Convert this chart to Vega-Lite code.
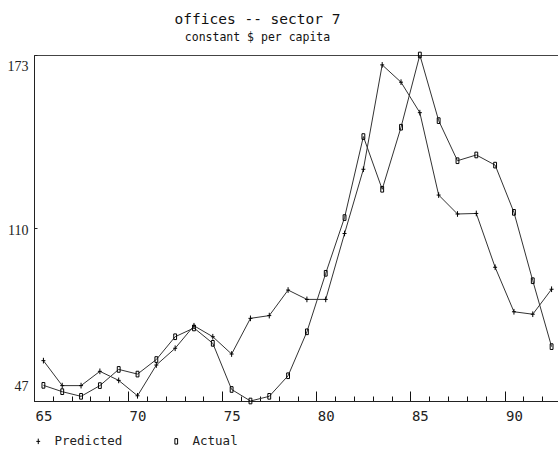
{
  "$schema": "https://vega.github.io/schema/vega-lite/v6.json",
  "width": 527,
  "height": 346,
  "autosize": "none",
  "padding": {"left": 34, "top": 55, "right": 0, "bottom": 49},
  "background": "white",
  "title": {
    "text": "offices -- sector 7",
    "subtitle": "constant $ per capita",
    "anchor": "middle",
    "frame": "group",
    "dx": -40,
    "offset": 6,
    "font": "DejaVu Sans Mono",
    "fontSize": 14.5,
    "fontWeight": "normal",
    "color": "#111",
    "subtitleFont": "DejaVu Sans Mono",
    "subtitleFontSize": 11.5,
    "subtitleColor": "#111",
    "subtitlePadding": 4
  },
  "config": {
    "view": {"stroke": "#444", "strokeWidth": 1}
  },
  "data": {
    "values": [
      {"year": 65, "series": "Predicted", "value": 61.7},
      {"year": 66, "series": "Predicted", "value": 52.6},
      {"year": 67, "series": "Predicted", "value": 52.6},
      {"year": 68, "series": "Predicted", "value": 57.8},
      {"year": 69, "series": "Predicted", "value": 54.5},
      {"year": 70, "series": "Predicted", "value": 48.9},
      {"year": 71, "series": "Predicted", "value": 60.1},
      {"year": 72, "series": "Predicted", "value": 66.2},
      {"year": 73, "series": "Predicted", "value": 74.4},
      {"year": 74, "series": "Predicted", "value": 70.4},
      {"year": 75, "series": "Predicted", "value": 64.1},
      {"year": 76, "series": "Predicted", "value": 77.1},
      {"year": 77, "series": "Predicted", "value": 78.1},
      {"year": 78, "series": "Predicted", "value": 87.4},
      {"year": 79, "series": "Predicted", "value": 84.0},
      {"year": 80, "series": "Predicted", "value": 84.0},
      {"year": 81, "series": "Predicted", "value": 108.0},
      {"year": 82, "series": "Predicted", "value": 131.4},
      {"year": 83, "series": "Predicted", "value": 169.4},
      {"year": 84, "series": "Predicted", "value": 163.1},
      {"year": 85, "series": "Predicted", "value": 152.0},
      {"year": 86, "series": "Predicted", "value": 122.0},
      {"year": 87, "series": "Predicted", "value": 115.1},
      {"year": 88, "series": "Predicted", "value": 115.3},
      {"year": 89, "series": "Predicted", "value": 95.7},
      {"year": 90, "series": "Predicted", "value": 79.5},
      {"year": 91, "series": "Predicted", "value": 78.6},
      {"year": 92, "series": "Predicted", "value": 87.7},
      {"year": 65, "series": "Actual", "value": 52.7},
      {"year": 66, "series": "Actual", "value": 50.4},
      {"year": 67, "series": "Actual", "value": 48.7},
      {"year": 68, "series": "Actual", "value": 52.6},
      {"year": 69, "series": "Actual", "value": 58.5},
      {"year": 70, "series": "Actual", "value": 56.8},
      {"year": 71, "series": "Actual", "value": 62.1},
      {"year": 72, "series": "Actual", "value": 70.4},
      {"year": 73, "series": "Actual", "value": 73.6},
      {"year": 74, "series": "Actual", "value": 68.0},
      {"year": 75, "series": "Actual", "value": 51.2},
      {"year": 76, "series": "Actual", "value": 47.0},
      {"year": 77, "series": "Actual", "value": 48.7},
      {"year": 78, "series": "Actual", "value": 56.2},
      {"year": 79, "series": "Actual", "value": 72.2},
      {"year": 80, "series": "Actual", "value": 93.5},
      {"year": 81, "series": "Actual", "value": 113.8},
      {"year": 82, "series": "Actual", "value": 143.3},
      {"year": 83, "series": "Actual", "value": 124.1},
      {"year": 84, "series": "Actual", "value": 146.7},
      {"year": 85, "series": "Actual", "value": 173.0},
      {"year": 86, "series": "Actual", "value": 149.1},
      {"year": 87, "series": "Actual", "value": 134.5},
      {"year": 88, "series": "Actual", "value": 136.6},
      {"year": 89, "series": "Actual", "value": 132.9},
      {"year": 90, "series": "Actual", "value": 115.7},
      {"year": 91, "series": "Actual", "value": 90.8},
      {"year": 92, "series": "Actual", "value": 66.8}
    ]
  },
  "encoding": {
    "x": {
      "field": "year",
      "type": "quantitative",
      "scale": {"domain": [64.5, 92.5], "nice": false, "zero": false},
      "axis": {
        "title": null,
        "grid": false,
        "values": [65, 66, 67, 68, 69, 70, 71, 72, 73, 74, 75, 76, 77, 78, 79, 80, 81, 82, 83, 84, 85, 86, 87, 88, 89, 90, 91, 92],
        "domainColor": "#222",
        "tickColor": "#111",
        "tickWidth": 1,
        "tickOffset": -9.4,
        "labelOffset": 9.4,
        "tickSize": {"condition": {"test": "datum.value % 5 === 0", "value": -10}, "value": -5},
        "labelExpr": "datum.value % 5 === 0 ? datum.label : ''",
        "labelFont": "DejaVu Sans Mono",
        "labelFontSize": 14,
        "labelColor": "#222",
        "labelPadding": 18,
        "labelFlush": false,
        "labelOverlap": false
      }
    },
    "y": {
      "field": "value",
      "type": "quantitative",
      "scale": {"domain": [47, 173], "nice": false, "zero": false},
      "axis": {
        "title": null,
        "grid": false,
        "values": [47, 110, 173],
        "domainColor": "#222",
        "tickColor": "#222",
        "tickSize": -3,
        "labelOffset": {"condition": [{"test": "datum.value === 173", "value": 11}, {"test": "datum.value === 47", "value": -15}], "value": 2},
        "labelFont": "Liberation Serif",
        "labelFontSize": 14,
        "labelColor": "#222",
        "labelPadding": 9,
        "labelFlush": false,
        "labelOverlap": false
      }
    }
  },
  "layer": [
    {
      "mark": {"type": "line", "color": "#333", "strokeWidth": 1},
      "encoding": {"detail": {"field": "series"}}
    },
    {
      "mark": {"type": "point", "filled": false, "color": "#000", "strokeWidth": 1, "size": 32, "opacity": 1},
      "encoding": {
        "shape": {
          "field": "series",
          "type": "nominal",
          "scale": {"domain": ["Predicted", "Actual"], "range": ["M0,-1V1M-0.7,0H0.7", "M-0.5,-1H0.5V1H-0.5Z"]},
          "legend": {
            "orient": "none",
            "legendX": -2,
            "legendY": 380,
            "direction": "horizontal",
            "title": null,
            "labelFont": "DejaVu Sans Mono",
            "labelFontSize": 12.5,
            "labelColor": "#222",
            "labelOffset": 10,
            "columnPadding": 47,
            "symbolSize": 30,
            "symbolStrokeColor": "#000",
            "symbolStrokeWidth": 1,
            "symbolFillColor": "transparent"
          }
        }
      }
    }
  ]
}
